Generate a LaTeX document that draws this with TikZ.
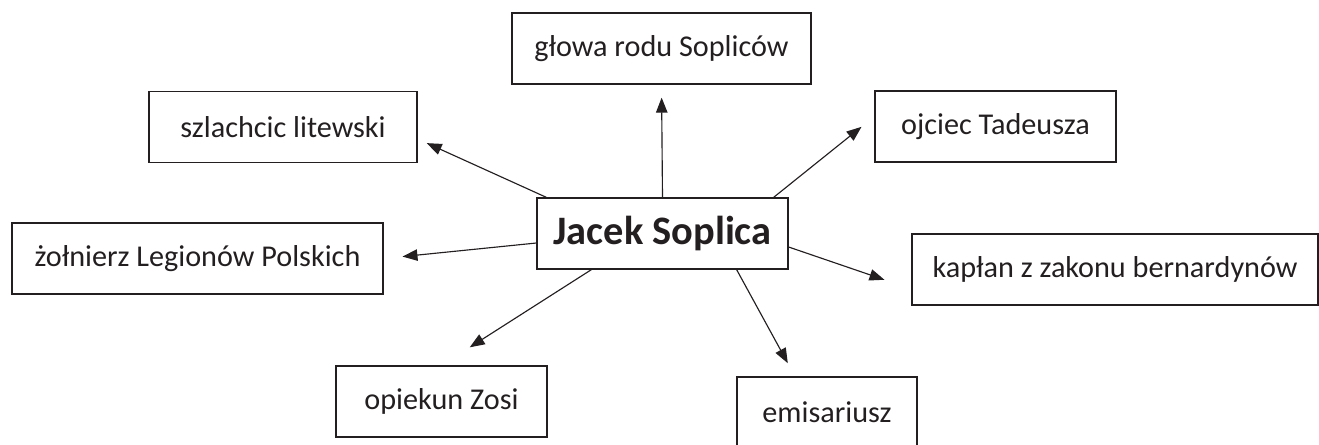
\documentclass[tikz,border=0pt]{standalone}
\usepackage{fontspec}
\setmainfont{Carlito}
\usetikzlibrary{arrows.meta, calc}
\definecolor{tekst}{HTML}{231F20}
\tikzstyle{pole} = [
    rectangle, 
    minimum height=1.42cm,
    inner sep=0pt,
    text centered, 
    draw=tekst, 
    line width=0.75pt,
    text=tekst,
    font=\fontsize{17.2}{20}\selectfont
]
\tikzstyle{glowny} = [
    pole,
    font=\fontsize{23}{27}\selectfont\bfseries
]
\tikzstyle{arrow} = [line width=0.65pt, draw=tekst, -{Triangle[length=8.5pt,width=6.5pt]}]

\begin{document}
\begin{tikzpicture}[x=0.02cm, y=-0.02cm]
\useasboundingbox (0,0) rectangle (1319,444);

% Nodes
\node (jacek) [glowny, minimum width=5.02cm] at (662.5,233.5) {Jacek Soplica};
\node (glowa) [pole, minimum width=5.98cm] at (661.5,48.5) {głowa rodu Sopliców};
\node (szlachcic) [pole, minimum width=5.36cm] at (283,127) {szlachcic litewski};
\node (ojciec) [pole, minimum width=4.82cm] at (995.5,126.5) {ojciec Tadeusza};
\node (zolnierz) [pole, minimum width=7.42cm] at (197.5,258.5) {żołnierz Legionów Polskich};
\node (kaplan) [pole, minimum width=8.12cm] at (1115,269.5) {kapłan z zakonu bernardynów};
\node (opiekun) [pole, minimum width=4.22cm] at (441.5,401.5) {opiekun Zosi};
\node (emisariusz) [pole, minimum width=3.6cm] at (827,412.5) {emisariusz};

% Arrows
\draw [arrow, shorten >=0.26cm] (jacek.north) -- (glowa.south);
\draw [arrow, shorten >=0.2cm] ($(jacek.north west)+(10,0)$) -- ($(szlachcic.east)+(0,12)$);
\draw [arrow, shorten >=0.33cm] ($(jacek.north east)+(-15,0)$) -- ($(ojciec.west)+(0,-10)$);
\draw [arrow, shorten >=0.38cm] ($(jacek.west)+(0,9.5)$) -- (zolnierz.east);
\draw [arrow, shorten >=0.57cm] ($(jacek.east)+(0,13.5)$) -- ($(kaplan.west)+(0,19.5)$);
\draw [arrow, shorten >=0.67cm] ($(jacek.south west)+(55,0)$) -- (opiekun.north);
\draw [arrow, shorten >=0.3cm] ($(jacek.south east)+(-52,0)$) -- ($(emisariusz.north)+(-32,0)$);

\end{tikzpicture}
\end{document}
